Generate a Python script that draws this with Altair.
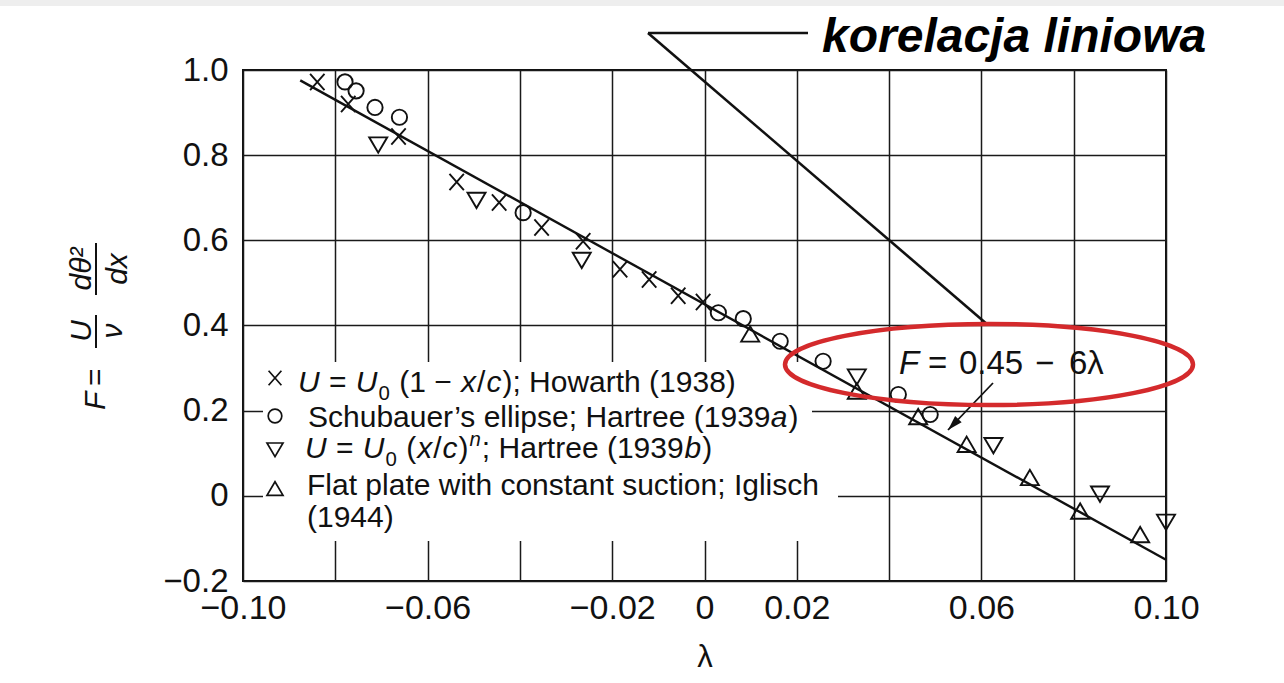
import math
import altair as alt
import pandas as pd

# ---- measured points: F versus lambda for four flow families ----
howarth_lam = [-0.0839, -0.0772, -0.0663, -0.0537, -0.0445, -0.0353, -0.0263, -0.0183, -0.0120, -0.0057, -0.0003]
howarth_F = [0.972, 0.920, 0.844, 0.737, 0.689, 0.630, 0.598, 0.532, 0.508, 0.470, 0.455]

schubauer_lam = [-0.0779, -0.0755, -0.0714, -0.0661, -0.0393, 0.0030, 0.0084, 0.0164, 0.0257, 0.0420, 0.0489]
schubauer_F = [0.972, 0.951, 0.912, 0.889, 0.665, 0.430, 0.416, 0.363, 0.316, 0.238, 0.191]

hartree_lam = [-0.0707, -0.0494, -0.0266, 0.0330, 0.0626, 0.0857, 0.1000]
hartree_F = [0.826, 0.696, 0.555, 0.281, 0.120, 0.006, -0.060]

iglisch_lam = [0.0099, 0.0330, 0.0463, 0.0568, 0.0705, 0.0814, 0.0944]
iglisch_F = [0.379, 0.245, 0.185, 0.120, 0.042, -0.037, -0.092]

series_names = ["howarth", "schubauer", "hartree", "iglisch"]

# linear correlation F = 0.45 - 6*lambda
fit_intercept = 0.45
fit_slope = -6.0
fit_lam = [-0.0876, 0.100]

# axes
x_grid = [-0.10, -0.08, -0.06, -0.04, -0.02, 0.0, 0.02, 0.04, 0.06, 0.08, 0.10]
x_tick_values = [-0.10, -0.06, -0.02, 0.0, 0.02, 0.06, 0.10]
x_tick_labels = ["−0.10", "−0.06", "−0.02", "0", "0.02", "0.06", "0.10"]
y_grid = [-0.2, 0.0, 0.2, 0.4, 0.6, 0.8, 1.0]
y_tick_labels = ["−0.2", "0", "0.2", "0.4", "0.6", "0.8", "1.0"]

# ---- geometry of the figure ----
LAM_MIN, LAM_MAX = -0.10, 0.10
F_MIN, F_MAX = -0.2, 1.0
W, H = 923, 511
PAD_L, PAD_T, PAD_R, PAD_B = 243, 70, 118, 102
PX_X = W / (LAM_MAX - LAM_MIN)
PX_Y = H / (F_MAX - F_MIN)
FONT = "Liberation Sans"


def to_lam(px):
    return LAM_MIN + (px - PAD_L) / PX_X


def to_F(py):
    return F_MAX - (py - PAD_T) / PX_Y


# Arial / Liberation Sans advance widths (1/1000 em) for text layout
ADV = {" ": 278, "(": 333, ")": 333, ";": 278, ".": 278, "/": 278, "=": 584, "−": 584,
       "’": 222, "U": 722, "H": 722, "S": 667, "F": 611, "I": 278,
       "a": 556, "b": 556, "c": 500, "d": 556, "e": 556, "g": 556, "h": 556, "i": 222,
       "l": 222, "n": 556, "o": 556, "p": 556, "r": 333, "s": 500, "t": 278, "u": 556,
       "w": 722, "x": 500, "θ": 556, "λ": 520, "ν": 500, "²": 333}
for d in "0123456789":
    ADV[d] = 556


def text_width(s, size):
    return sum(ADV.get(ch, 556) for ch in s) * size / 1000.0


def layout_row(start_px, base_py, segments, size, tracking=0.0):
    rows = []
    x = start_px
    for text, style in segments:
        small = style in ("sub", "sup")
        s = size * 0.68 if small else size
        dy = {"sub": 0.25 * size, "sup": -0.40 * size}.get(style, 0.0)
        lead = len(text) - len(text.lstrip(" "))
        shown = text.strip(" ")
        if shown:
            rows.append(dict(lam=to_lam(x + text_width(" " * lead, s)),
                             F=to_F(base_py + dy), text=shown,
                             italic=style in ("i", "sup"), size=s))
        x += text_width(text, s) + tracking
    return rows


XS = alt.Scale(domain=[LAM_MIN, LAM_MAX], nice=False, zero=False)
YS = alt.Scale(domain=[F_MIN, F_MAX], nice=False, zero=False)


def label_expr(values, labels):
    parts = [f"abs(datum.value - ({v})) < 0.001 ? '{t}'" for v, t in zip(values, labels)]
    return " : ".join(parts) + " : ''"


X_AXIS = alt.Axis(values=x_grid, labelExpr=label_expr(x_tick_values, x_tick_labels),
                  grid=True, gridColor="#1a1a1a", gridWidth=1.5, domain=False, ticks=False,
                  labelFont=FONT, labelFontSize=34, labelColor="#111111", labelPadding=10,
                  labelFlush=False, labelOverlap=False,
                  title="λ", titleFont=FONT, titleFontSize=31, titleFontWeight="normal",
                  titleColor="#111111", titlePadding=17)
Y_AXIS = alt.Axis(values=y_grid, labelExpr=label_expr(y_grid, y_tick_labels),
                  grid=True, gridColor="#1a1a1a", gridWidth=1.5, domain=False, ticks=False,
                  labelFont=FONT, labelFontSize=33, labelColor="#111111", labelPadding=15,
                  labelFlush=False, labelOverlap=False)


def X(field="lam"):
    return alt.X(field, type="quantitative", scale=XS, axis=X_AXIS)


def Y(field="F"):
    return alt.Y(field, type="quantitative", scale=YS, axis=Y_AXIS, title=None)


# ---- data table for the markers ----
frames = []
for name, lam, F in [("howarth", howarth_lam, howarth_F), ("schubauer", schubauer_lam, schubauer_F),
                     ("hartree", hartree_lam, hartree_F), ("iglisch", iglisch_lam, iglisch_F)]:
    frames.append(pd.DataFrame({"series": name, "lam": lam, "F": F}))
points = pd.concat(frames, ignore_index=True)

SHAPES = ["M-0.8,-0.9L0.8,0.9M0.8,-0.9L-0.8,0.9",
          "M0.85,0A0.85,0.85 0 1,1 -0.85,0A0.85,0.85 0 1,1 0.85,0Z",
          "M-1,-0.75L1,-0.75L0,0.95Z",
          "M-1,0.8L1,0.8L0,-0.9Z"]
shape_enc = alt.Shape("series:N", scale=alt.Scale(domain=series_names, range=SHAPES), legend=None)

fit = pd.DataFrame({"lam": fit_lam, "F": [fit_intercept + fit_slope * v for v in fit_lam]})

# ---- legend block (white panel, symbols and text) ----
legend_panel = pd.DataFrame({"lam": [to_lam(263), to_lam(812)], "lam2": [to_lam(812), to_lam(838)],
                             "F": [to_F(362), to_F(480)], "F2": [to_F(541), to_F(510)]})
legend_symbols = pd.DataFrame({"series": series_names,
                               "lam": [to_lam(275)] * 4,
                               "F": [to_F(378), to_F(416), to_F(449), to_F(489)]})

LEG = 30
TRACK = 1.0
legend_rows = []
legend_rows += layout_row(298, 392, [("U", "i"), (" = ", "n"), ("U", "i"), ("0", "sub"), (" (1 − ", "n"),
                                     ("x", "i"), ("/", "n"), ("c", "i"), ("); Howarth (1938)", "n")], LEG, TRACK)
legend_rows += layout_row(308, 427, [("Schubauer’s ellipse; Hartree (1939", "n"), ("a", "i"), (")", "n")],
                          LEG, TRACK)
legend_rows += layout_row(305, 458, [("U", "i"), (" = ", "n"), ("U", "i"), ("0", "sub"), (" (", "n"),
                                     ("x", "i"), ("/", "n"), ("c", "i"), (")", "n"), ("n", "sup"),
                                     ("; Hartree (1939", "n"), ("b", "i"), (")", "n")], LEG, TRACK)
legend_rows += layout_row(307, 495, [("Flat plate with constant suction; Iglisch", "n")], LEG)
legend_rows += layout_row(307, 527, [("(1944)", "n")], LEG)

# equation label inside the red ellipse
EQ = 33
eq_rows = []
eq_rows += layout_row(899, 374, [("F", "i")], EQ)
eq_rows += layout_row(928, 374, [("=", "n")], EQ)
eq_rows += layout_row(959, 374, [("0.45", "n")], EQ)
eq_rows += layout_row(1035, 374, [("−", "n")], EQ)
eq_rows += layout_row(1069, 374, [("6λ", "n")], EQ)

text_df = pd.DataFrame(legend_rows + eq_rows)


def text_layer(df, italic):
    sub = df[df["italic"] == italic]
    mark = dict(align="left", baseline="alphabetic", font=FONT, color="#111111")
    if italic:
        mark["fontStyle"] = "italic"
    return alt.Chart(sub).mark_text(**mark).encode(
        x=X(), y=Y(), text="text:N", size=alt.Size("size:Q", scale=None, legend=None))


# ---- y-axis title: F = (U/nu) (d theta^2 / dx), set vertically ----
ytitle_left = pd.DataFrame({"lam": [to_lam(105)], "F": [to_F(410)], "text": ["F"]})
ytitle_eq = pd.DataFrame({"lam": [to_lam(105)], "F": [to_F(386)], "text": ["="]})
ytitle_frac = pd.DataFrame({"lam": [to_lam(91), to_lam(122), to_lam(91), to_lam(127)],
                            "F": [to_F(331), to_F(331), to_F(269), to_F(269)],
                            "text": ["U", "ν", "dθ²", "dx"]})
ytitle_bars = pd.DataFrame({"lam": [to_lam(96), to_lam(96)], "F": [to_F(315), to_F(243)],
                            "F2": [to_F(348), to_F(295)]})

# ---- annotation: "korelacja liniowa" with its leader line ----
leader = pd.DataFrame({"lam": [to_lam(808), to_lam(648)], "F": [to_F(33), to_F(33)],
                       "lam2": [to_lam(648), to_lam(988)], "F2": [to_F(33), to_F(325)]})
headline = pd.DataFrame({"lam": [to_lam(822)], "F": [to_F(52)], "text": ["korelacja liniowa"]})

# arrow from the equation to the fitted line
arrow_tail = (993, 383)
arrow_tip = (948, 430)
arrow = pd.DataFrame({"lam": [to_lam(arrow_tail[0])], "F": [to_F(arrow_tail[1])],
                      "lam2": [to_lam(arrow_tip[0])], "F2": [to_F(arrow_tip[1])]})
adx, ady = arrow_tip[0] - arrow_tail[0], arrow_tip[1] - arrow_tail[1]
arrow_angle = math.degrees(math.atan2(adx, -ady)) % 360
arrow_head = pd.DataFrame({"lam": [to_lam(arrow_tip[0])], "F": [to_F(arrow_tip[1])]})

# red ellipse highlighting the equation
ELL_RX, ELL_RY = 204.0, 40.5
ellipse_path = (f"M-1,0A1,{ELL_RY / ELL_RX:.4f} 0 1,0 1,0A1,{ELL_RY / ELL_RX:.4f} 0 1,0 -1,0Z")
ellipse = pd.DataFrame({"lam": [to_lam(989)], "F": [to_F(364.5)]})

# ---- layers ----
top_band = alt.Chart(pd.DataFrame({"k": [0]})).mark_rect(color="#eeeeee").encode(
    x=alt.value(-PAD_L), x2=alt.value(W + PAD_R), y=alt.value(-PAD_T), y2=alt.value(-PAD_T + 6))

panel = alt.Chart(legend_panel).mark_rect(color="white").encode(
    x=X(), x2="lam2", y=Y(), y2="F2")

fit_line = alt.Chart(fit).mark_line(color="#111111", strokeWidth=2.4).encode(x=X(), y=Y())

markers = alt.Chart(points).mark_point(filled=False, color="#111111", strokeWidth=1.9,
                                       size=324, opacity=1).encode(x=X(), y=Y(), shape=shape_enc)
legend_marks = alt.Chart(legend_symbols).mark_point(filled=False, color="#111111", strokeWidth=1.7,
                                                    size=256, opacity=1).encode(x=X(), y=Y(), shape=shape_enc)

yt_F = alt.Chart(ytitle_left).mark_text(angle=270, align="left", baseline="alphabetic", font=FONT,
                                        fontSize=30, fontStyle="italic", color="#111111").encode(
    x=X(), y=Y(), text="text:N")
yt_eq = alt.Chart(ytitle_eq).mark_text(angle=270, align="left", baseline="alphabetic", font=FONT,
                                       fontSize=30, color="#111111").encode(x=X(), y=Y(), text="text:N")
yt_frac = alt.Chart(ytitle_frac).mark_text(angle=270, align="center", baseline="alphabetic", font=FONT,
                                           fontSize=30, fontStyle="italic", color="#111111").encode(
    x=X(), y=Y(), text="text:N")
yt_bars = alt.Chart(ytitle_bars).mark_rule(color="#111111", strokeWidth=2).encode(
    x=X(), y=Y(), y2="F2")

leader_lines = alt.Chart(leader).mark_rule(color="#111111", strokeWidth=2.6).encode(
    x=X(), y=Y(), x2="lam2", y2="F2")
headline_text = alt.Chart(headline).mark_text(align="left", baseline="alphabetic", font=FONT,
                                              fontSize=48, fontStyle="italic", fontWeight="bold",
                                              color="#000000").encode(x=X(), y=Y(), text="text:N")

arrow_shaft = alt.Chart(arrow).mark_rule(color="#111111", strokeWidth=1.8).encode(
    x=X(), y=Y(), x2="lam2", y2="F2")
arrow_tip_mark = alt.Chart(arrow_head).mark_point(shape="M0,0L0.6,2L-0.6,2Z", filled=True,
                                                  color="#111111", size=225, opacity=1,
                                                  angle=arrow_angle).encode(x=X(), y=Y())

ellipse_mark = alt.Chart(ellipse).mark_point(shape=ellipse_path, filled=False, color="#d42a2c",
                                             strokeWidth=4.5, size=(2 * ELL_RX) ** 2,
                                             opacity=1).encode(x=X(), y=Y())

chart = alt.layer(
    top_band, panel, fit_line, markers, legend_marks,
    text_layer(text_df, False), text_layer(text_df, True),
    yt_F, yt_eq, yt_frac, yt_bars,
    leader_lines, headline_text, arrow_shaft, arrow_tip_mark, ellipse_mark,
).properties(
    width=W, height=H,
    autosize=alt.AutoSizeParams(type="none"),
    padding={"left": PAD_L, "top": PAD_T, "right": PAD_R, "bottom": PAD_B},
    background="white",
).configure_view(stroke="#111111", strokeWidth=2)

chart.save("out.html", embed_options={"renderer": "svg", "actions": False})
